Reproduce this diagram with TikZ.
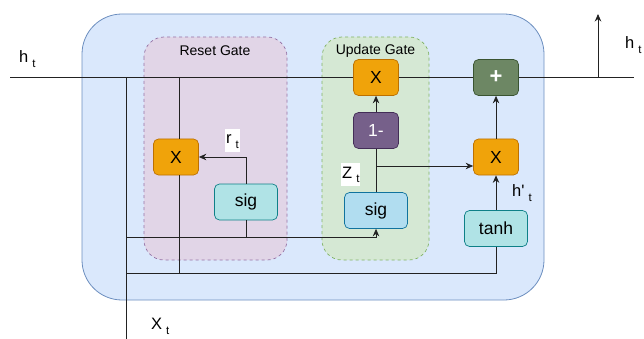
\documentclass[tikz,border=0pt]{standalone}
\usepackage{fontspec}
\setmainfont{Liberation Sans}
\usetikzlibrary{arrows.meta}

\definecolor{cellfill}{HTML}{DAE8FC}
\definecolor{celldraw}{HTML}{6C8EBF}
\definecolor{resetfill}{HTML}{E1D5E7}
\definecolor{resetdraw}{HTML}{9673A6}
\definecolor{updfill}{HTML}{D5E8D4}
\definecolor{upddraw}{HTML}{82B366}
\definecolor{mulfill}{HTML}{F0A30A}
\definecolor{muldraw}{HTML}{BD7000}
\definecolor{onefill}{HTML}{76608A}
\definecolor{onedraw}{HTML}{432D57}
\definecolor{addfill}{HTML}{6D8764}
\definecolor{adddraw}{HTML}{3A5431}
\definecolor{tealfill}{HTML}{B0E3E6}
\definecolor{tealdraw}{HTML}{0E8088}
\definecolor{bluefill}{HTML}{B1DDF0}
\definecolor{bluedraw}{HTML}{10739E}
\definecolor{wire}{HTML}{222222}

% lowered subscript as used in the labels
\newcommand{\lowsub}[1]{\hspace{4pt}{\fontsize{11.5}{11.5}\selectfont\raisebox{-5pt}{#1}}}

\begin{document}
\begin{tikzpicture}[x=1pt,y=-1pt,
  op/.style={draw, rounded corners=5pt, minimum width=45pt, minimum height=36pt,
             inner sep=0pt, line width=0.7pt, font=\fontsize{17.5}{17.5}\selectfont},
  mul/.style={op, fill=mulfill, draw=muldraw},
  onem/.style={op, fill=onefill, draw=onedraw, text=white},
  add/.style={op, fill=addfill, draw=adddraw, text=white, font=\fontsize{22}{22}\selectfont\bfseries},
  act/.style={op, minimum width=63pt, minimum height=36pt},
  gate/.style={dashed, line width=0.7pt, rounded corners=20pt},
  lbl/.style={font=\fontsize{16.5}{16.5}\selectfont, inner xsep=1pt, inner ysep=3pt,
              anchor=base west},
  wlbl/.style={lbl, fill=white, text height=12pt},
  ln/.style={draw=wire, line width=0.8pt},
  arr/.style={ln, -{Stealth[length=7.5pt,width=6.5pt]}}
]
\useasboundingbox (0,0) rectangle (644,339);

% cell body and the two gate regions
\draw[fill=cellfill, draw=celldraw, line width=0.8pt, rounded corners=40pt]
  (82,14) rectangle (544,300);
\draw[gate, fill=resetfill, draw=resetdraw] (144,37) rectangle (287,260);
\draw[gate, fill=updfill, draw=upddraw] (322,37) rectangle (429,260);
\node[font=\fontsize{14}{14}\selectfont] (rg) at (215,51) {Reset Gate};
\node[font=\fontsize{14}{14}\selectfont] (ug) at (375.5,51) {Update Gate};

% end points of the wires
\coordinate (hin)  at (10,77);
\coordinate (hout) at (634,77);
\coordinate (hsp)  at (598,77);
\coordinate (hup)  at (598,14);
\coordinate (xin)  at (126,339);
\coordinate (xtop) at (126,77);
\coordinate (mid)  at (126,237);
\coordinate (bot)  at (126,273);
\coordinate (tap)  at (179,77);
\coordinate (zb)   at (376,166);

% hidden state line and input line
\draw[ln] (hin) -- (hout);
\draw[arr] (hsp) -- (hup);
\draw[ln] (xin) -- (xtop);

% operation blocks
\node[mul]  (mr)  at (176,157)   {X};
\node[act, fill=tealfill, draw=tealdraw] (sr) at (246,202) {sig};
\node[mul]  (mu)  at (376,77.5)  {X};
\node[onem] (om)  at (376,130.5) {1-};
\node[act, fill=bluefill, draw=bluedraw] (su) at (376,210.5) {sig};
\node[mul]  (m2)  at (496,157)   {X};
\node[add]  (pl)  at (496,77.5)  {+};
\node[act, fill=tealfill, draw=tealdraw] (th) at (496,228.5) {tanh};

% reset gate wiring
\draw[ln] (tap) -- (tap |- mr.north);
\draw[ln] (tap |- mr.south) -- (tap |- bot);
\draw[arr] (sr.north) |- (mr.east);
\draw[ln] (sr.south) -- (sr.south |- mid);
\draw[arr] (mid) -| (su.south);

% update gate wiring
\draw[ln] (su.north) -- (om.south);
\draw[arr] (om.north) -- (mu.south);
\draw[arr] (zb) -- (zb -| m2.west);

% candidate state wiring
\draw[ln] (bot) -| (th.south);
\draw[arr] (th.north) -- (m2.south);
\draw[arr] (m2.north) -- (pl.south);

% labels
\node[lbl]  (lh)  at (18,63)   {h\lowsub{t}};
\node[lbl]  (rh)  at (624,49)  {h\lowsub{t}};
\node[lbl]  (lx)  at (150,329) {X\lowsub{t}};
\node[wlbl] (lr)  at (225,144) {r\lowsub{t}};
\node[wlbl] (lz)  at (341,178) {Z\lowsub{t}};
\node[lbl]  (lhp) at (511,196) {h\textquotesingle\lowsub{t}};
\end{tikzpicture}
\end{document}
